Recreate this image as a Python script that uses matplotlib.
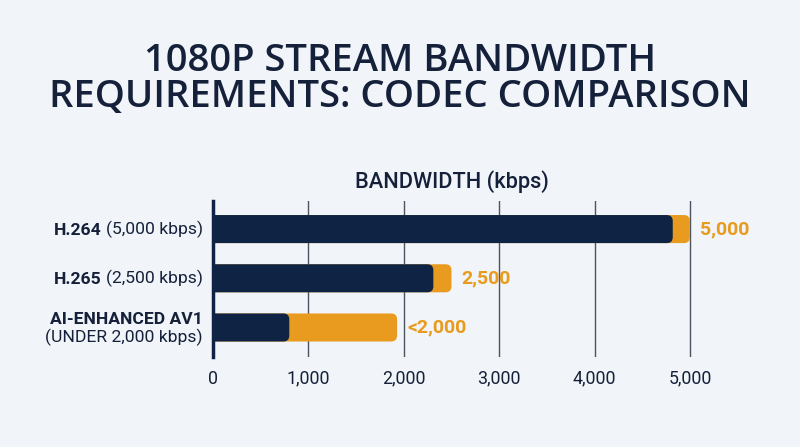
import matplotlib
matplotlib.use("Agg")
import matplotlib.pyplot as plt
import matplotlib.transforms as mtransforms
from matplotlib.patches import FancyBboxPatch

codecs = ["H.264", "H.265", "AI-ENHANCED AV1"]
codec_notes = ["(5,000 kbps)", "(2,500 kbps)", "(UNDER 2,000 kbps)"]
total_kbps = [5000, 2500, 1930]   # orange bar end
core_kbps = [4820, 2310, 800]     # navy bar end
value_labels = ["5,000", "2,500", "<2,000"]
x_ticks = [0, 1000, 2000, 3000, 4000, 5000]
x_tick_labels = ["0", "1,000", "2,000", "3,000", "4,000", "5,000"]

NAVY = "#0f2444"
ORANGE = "#e89b1e"
BG = "#f1f4f8"
TEXT = "#15213a"
GRID = "#4d5563"

plt.rcParams["font.family"] = ["Roboto", "DejaVu Sans"]

fig = plt.figure(figsize=(8, 4.47), dpi=100, facecolor=BG)
ax = fig.add_axes([0.26625, 0.2013, 0.62, 0.349])
ax.set_facecolor(BG)
ax.set_xlim(0, 5200)
ax.set_ylim(2.6, -0.57)

# rounded bar ends: radius in pixels, converted to data units
ax_w_px = 0.62 * 800
ax_h_px = 0.349 * 447
r_px = 6
rx = r_px * 5200 / ax_w_px
ry = r_px * 3.17 / ax_h_px
aspect = ry / rx

bar_h = 0.57
for vals, color, z in [(total_kbps, ORANGE, 2), (core_kbps, NAVY, 3)]:
    bars = ax.barh(range(len(codecs)), vals, height=bar_h, color=color)
    for b in bars:
        x, y, w, h = b.get_x(), b.get_y(), b.get_width(), b.get_height()
        b.remove()
        p = FancyBboxPatch((x - rx, y), w + rx, h,
                           boxstyle=f"round,pad=0,rounding_size={rx}",
                           mutation_aspect=aspect, fc=color, ec="none", zorder=z)
        ax.add_patch(p)

for s in ["top", "right", "bottom"]:
    ax.spines[s].set_visible(False)
ax.spines["left"].set_color(NAVY)
ax.spines["left"].set_linewidth(2.5)
ax.spines["left"].set_zorder(4)

ax.set_xticks(x_ticks, x_tick_labels)
ax.set_yticks([])
ax.tick_params(axis="x", length=0, pad=9, labelsize=12.8, labelcolor=TEXT)
ax.grid(axis="x", color=GRID, lw=1)
ax.set_axisbelow(True)

left = mtransforms.offset_copy(ax.transData, fig, x=-10, y=0, units="dots")
for i, (name, note) in enumerate(zip(codecs, codec_notes)):
    if i < 2:
        reg = ax.text(0, i, note, transform=left, ha="right", va="center",
                      fontsize=12.6, color=TEXT)
        ax.annotate(name, xy=(0, 0), xycoords=reg, xytext=(-3, 0),
                    textcoords="offset points", ha="right", va="bottom",
                    fontsize=12.6, fontweight="bold", color=TEXT)
    else:
        up = mtransforms.offset_copy(ax.transData, fig, x=-10, y=8, units="dots")
        dn = mtransforms.offset_copy(ax.transData, fig, x=-10, y=-10, units="dots")
        ax.text(0, i, name, transform=up, ha="right", va="center",
                fontsize=12.6, fontweight="bold", color=TEXT)
        ax.text(0, i, note, transform=dn, ha="right", va="center",
                fontsize=12.6, color=TEXT)

right = mtransforms.offset_copy(ax.transData, fig, x=10, y=0, units="dots")
for i, (v, lab) in enumerate(zip(total_kbps, value_labels)):
    ax.text(v, i, lab, transform=right, ha="left", va="center",
            fontsize=14, fontweight="bold", color=ORANGE)

ax.annotate("BANDWIDTH (kbps)", xy=(2500, 1), xycoords=("data", "axes fraction"),
            xytext=(0, 19), textcoords="offset pixels", ha="center", va="center",
            fontsize=15.7, fontweight="medium", color=TEXT)

fig.text(0.5, 1 - 79 / 447, "1080P STREAM BANDWIDTH\nREQUIREMENTS: CODEC COMPARISON",
         ha="center", va="center", fontsize=27.5, fontweight="semibold", color=TEXT,
         linespacing=0.95, family=["Open Sans", "DejaVu Sans"])

fig.savefig("out.png", dpi=100, facecolor=BG)
